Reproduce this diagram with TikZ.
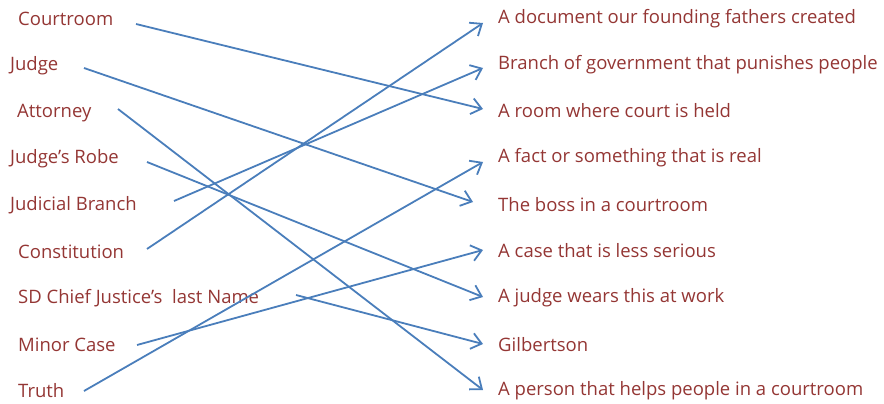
\documentclass[tikz,border=0pt]{standalone}
\usepackage{fontspec}
\setmainfont{Open Sans}
\usetikzlibrary{arrows.meta}
\definecolor{lbl}{HTML}{943634}
\definecolor{ln}{HTML}{4A7EBB}
\tikzset{
  lab/.style={anchor=west, inner sep=0pt, text=lbl, font=\fontsize{18.5}{20}\selectfont},
  conn/.style={draw=ln, line width=1.8pt, -{Straight Barb[length=10pt,width=16pt,line width=1.8pt]}},
}
\begin{document}
\begin{tikzpicture}[x=1pt,y=-1pt]
\useasboundingbox (0,0) rectangle (884,404);
% left labels
\node[lab] (l1) at (18,19) {Courtroom};
\node[lab] (l2) at (10,66) {Judge};
\node[lab] (l3) at (17,113) {Attorney};
\node[lab] (l4) at (10,159) {Judge’s Robe};
\node[lab] (l5) at (10,205) {Judicial Branch};
\node[lab] (l6) at (18,252) {Constitution};
\node[lab] (l7) at (18,298) {SD Chief Justice’s\ \ last Name};
\node[lab] (l8) at (18,345) {Minor Case};
\node[lab] (l9) at (18,391) {Truth};
% right labels
\node[lab] (r1) at (498,19) {A document our founding fathers created};
\node[lab] (r2) at (498,65) {Branch of government that punishes people};
\node[lab] (r3) at (498,111) {A room where court is held};
\node[lab] (r4) at (498,158) {A fact or something that is real};
\node[lab] (r5) at (498,205) {The boss in a courtroom};
\node[lab] (r6) at (498,251) {A case that is less serious};
\node[lab] (r7) at (498,298) {A judge wears this at work};
\node[lab] (r8) at (498,345) {Gilbertson};
\node[lab] (r9) at (498,391) {A person that helps people in a courtroom};
% connector ends
\coordinate (s1) at (136,24);  \coordinate (e1) at (483,109);
\coordinate (s2) at (84,68);   \coordinate (e2) at (473,202);
\coordinate (s3) at (118,109); \coordinate (e3) at (483,390);
\coordinate (s4) at (147,162); \coordinate (e4) at (483,297);
\coordinate (s5) at (174,201); \coordinate (e5) at (483,68);
\coordinate (s6) at (147,249); \coordinate (e6) at (483,23);
\coordinate (s7) at (296,295); \coordinate (e7) at (483,344);
\coordinate (s8) at (137,345); \coordinate (e8) at (483,250);
\coordinate (s9) at (84,391);  \coordinate (e9) at (483,162);
\foreach \i in {1,...,9} {\draw[conn] (s\i) -- (e\i);}
\end{tikzpicture}
\end{document}
